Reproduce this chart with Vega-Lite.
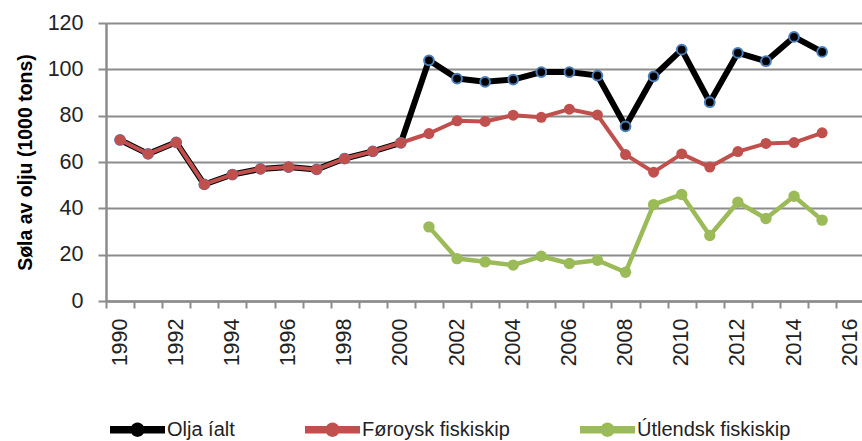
{
  "$schema": "https://vega.github.io/schema/vega-lite/v6.json",
  "width": 756,
  "height": 278,
  "autosize": {"type": "none"},
  "padding": {"left": 106, "top": 23, "right": 0, "bottom": 140},
  "background": "white",
  "config": {"view": {"stroke": null}, "font": "Liberation Sans"},
  "data": {"values": [
    {"year": 1990, "series": "Olja íalt", "value": 69.5},
    {"year": 1991, "series": "Olja íalt", "value": 63.5},
    {"year": 1992, "series": "Olja íalt", "value": 68.5},
    {"year": 1993, "series": "Olja íalt", "value": 50.3},
    {"year": 1994, "series": "Olja íalt", "value": 54.6},
    {"year": 1995, "series": "Olja íalt", "value": 57.0},
    {"year": 1996, "series": "Olja íalt", "value": 57.8},
    {"year": 1997, "series": "Olja íalt", "value": 56.8},
    {"year": 1998, "series": "Olja íalt", "value": 61.5},
    {"year": 1999, "series": "Olja íalt", "value": 64.6},
    {"year": 2000, "series": "Olja íalt", "value": 68.3},
    {"year": 2001, "series": "Olja íalt", "value": 103.9},
    {"year": 2002, "series": "Olja íalt", "value": 96.0},
    {"year": 2003, "series": "Olja íalt", "value": 94.6},
    {"year": 2004, "series": "Olja íalt", "value": 95.6},
    {"year": 2005, "series": "Olja íalt", "value": 98.8},
    {"year": 2006, "series": "Olja íalt", "value": 98.8},
    {"year": 2007, "series": "Olja íalt", "value": 97.3},
    {"year": 2008, "series": "Olja íalt", "value": 75.4},
    {"year": 2009, "series": "Olja íalt", "value": 97.0},
    {"year": 2010, "series": "Olja íalt", "value": 108.5},
    {"year": 2011, "series": "Olja íalt", "value": 85.8},
    {"year": 2012, "series": "Olja íalt", "value": 107.1},
    {"year": 2013, "series": "Olja íalt", "value": 103.5},
    {"year": 2014, "series": "Olja íalt", "value": 114.0},
    {"year": 2015, "series": "Olja íalt", "value": 107.5},
    {"year": 1990, "series": "Føroysk fiskiskip", "value": 69.5},
    {"year": 1991, "series": "Føroysk fiskiskip", "value": 63.5},
    {"year": 1992, "series": "Føroysk fiskiskip", "value": 68.5},
    {"year": 1993, "series": "Føroysk fiskiskip", "value": 50.3},
    {"year": 1994, "series": "Føroysk fiskiskip", "value": 54.6},
    {"year": 1995, "series": "Føroysk fiskiskip", "value": 57.0},
    {"year": 1996, "series": "Føroysk fiskiskip", "value": 57.8},
    {"year": 1997, "series": "Føroysk fiskiskip", "value": 56.8},
    {"year": 1998, "series": "Føroysk fiskiskip", "value": 61.5},
    {"year": 1999, "series": "Føroysk fiskiskip", "value": 64.6},
    {"year": 2000, "series": "Føroysk fiskiskip", "value": 68.3},
    {"year": 2001, "series": "Føroysk fiskiskip", "value": 72.3},
    {"year": 2002, "series": "Føroysk fiskiskip", "value": 77.8},
    {"year": 2003, "series": "Føroysk fiskiskip", "value": 77.5},
    {"year": 2004, "series": "Føroysk fiskiskip", "value": 80.2},
    {"year": 2005, "series": "Føroysk fiskiskip", "value": 79.3},
    {"year": 2006, "series": "Føroysk fiskiskip", "value": 82.8},
    {"year": 2007, "series": "Føroysk fiskiskip", "value": 80.3},
    {"year": 2008, "series": "Føroysk fiskiskip", "value": 63.2},
    {"year": 2009, "series": "Føroysk fiskiskip", "value": 55.6},
    {"year": 2010, "series": "Føroysk fiskiskip", "value": 63.5},
    {"year": 2011, "series": "Føroysk fiskiskip", "value": 57.8},
    {"year": 2012, "series": "Føroysk fiskiskip", "value": 64.5},
    {"year": 2013, "series": "Føroysk fiskiskip", "value": 68.0},
    {"year": 2014, "series": "Føroysk fiskiskip", "value": 68.4},
    {"year": 2015, "series": "Føroysk fiskiskip", "value": 72.6},
    {"year": 2001, "series": "Útlendsk fiskiskip", "value": 32.0},
    {"year": 2002, "series": "Útlendsk fiskiskip", "value": 18.3},
    {"year": 2003, "series": "Útlendsk fiskiskip", "value": 16.9},
    {"year": 2004, "series": "Útlendsk fiskiskip", "value": 15.5},
    {"year": 2005, "series": "Útlendsk fiskiskip", "value": 19.3},
    {"year": 2006, "series": "Útlendsk fiskiskip", "value": 16.2},
    {"year": 2007, "series": "Útlendsk fiskiskip", "value": 17.6},
    {"year": 2008, "series": "Útlendsk fiskiskip", "value": 12.4},
    {"year": 2009, "series": "Útlendsk fiskiskip", "value": 41.6},
    {"year": 2010, "series": "Útlendsk fiskiskip", "value": 46.0},
    {"year": 2011, "series": "Útlendsk fiskiskip", "value": 28.3},
    {"year": 2012, "series": "Útlendsk fiskiskip", "value": 42.6},
    {"year": 2013, "series": "Útlendsk fiskiskip", "value": 35.6},
    {"year": 2014, "series": "Útlendsk fiskiskip", "value": 45.2},
    {"year": 2015, "series": "Útlendsk fiskiskip", "value": 34.9}
  ]},
  "encoding": {
    "x": {
      "field": "year", "type": "quantitative",
      "scale": {"domain": [1989.5, 2016.42], "nice": false, "zero": false},
      "axis": {
        "title": null,
        "values": [1990,1991,1992,1993,1994,1995,1996,1997,1998,1999,2000,2001,2002,2003,2004,2005,2006,2007,2008,2009,2010,2011,2012,2013,2014,2015,2016],
        "format": "d",
        "labelExpr": "datum.value % 2 === 0 ? datum.label : ''",
        "labelOverlap": false,
        "labelAngle": -90,
        "labelFontSize": 21.5,
        "labelColor": "#222222",
        "labelPadding": 10,
        "tickOffset": -14.04,
        "labelOffset": 14.04,
        "tickSize": 7,
        "tickColor": "#8c8c8c",
        "tickWidth": 2,
        "domainColor": "#8c8c8c",
        "domainWidth": 2.5,
        "grid": false,
        "encode": {"ticks": {"update": {"y": {"value": -7}, "y2": {"value": 7}}}}
      }
    },
    "y": {
      "field": "value", "type": "quantitative",
      "scale": {"domain": [0, 120], "nice": false},
      "axis": {
        "title": "Søla av olju (1000 tons)",
        "titleFontSize": 19.5,
        "titleFontWeight": "bold",
        "titleColor": "#000000",
        "titlePadding": 12,
        "values": [0, 20, 40, 60, 80, 100, 120],
        "labelFontSize": 21.5,
        "labelColor": "#222222",
        "labelPadding": 15,
        "tickSize": 8,
        "tickColor": "#8c8c8c",
        "tickWidth": 2,
        "domainColor": "#8c8c8c",
        "domainWidth": 2.5,
        "grid": true,
        "gridColor": "#8c8c8c",
        "gridWidth": 2
      }
    }
  },
  "layer": [
    {
      "transform": [{"filter": "datum.series === 'Olja íalt'"}],
      "mark": {"type": "line", "strokeWidth": 6, "strokeJoin": "round"},
      "encoding": {
        "color": {
          "field": "series", "type": "nominal",
          "scale": {"domain": ["Olja íalt", "Føroysk fiskiskip", "Útlendsk fiskiskip"], "range": ["#000000", "#c0504d", "#9bbb59"]},
          "legend": {
            "orient": "none",
            "legendX": 4,
            "legendY": 379,
            "direction": "horizontal",
            "columns": 3,
            "title": null,
            "padding": 0,
            "symbolType": "M-1,-0.14L-0.219,-0.14A0.26,0.26,0,0,1,0.219,-0.14L1,-0.14L1,0.14L0.219,0.14A0.26,0.26,0,0,1,-0.219,0.14L-1,0.14Z",
            "symbolSize": 3025,
            "symbolStrokeWidth": 0,
            "labelFontSize": 20,
            "labelColor": "#222222",
            "labelOffset": 2,
            "labelLimit": 400,
            "columnPadding": 70,
            "encode": {"symbols": {"update": {"fill": {"scale": "color", "field": "value"}, "opacity": {"value": 1}, "strokeWidth": {"value": 0}}}}
          }
        }
      }
    },
    {
      "transform": [{"filter": "datum.series === 'Olja íalt'"}],
      "mark": {"type": "point", "filled": true, "fill": "#000000", "stroke": "#4a7ebb", "strokeWidth": 2, "size": 95, "opacity": 1}
    },
    {
      "transform": [{"filter": "datum.series === 'Føroysk fiskiskip'"}],
      "mark": {"type": "line", "strokeWidth": 4, "strokeJoin": "round"},
      "encoding": {"color": {"field": "series", "type": "nominal"}}
    },
    {
      "transform": [{"filter": "datum.series === 'Føroysk fiskiskip'"}],
      "mark": {"type": "point", "filled": true, "fill": "#c0504d", "size": 120, "opacity": 1}
    },
    {
      "transform": [{"filter": "datum.series === 'Útlendsk fiskiskip'"}],
      "mark": {"type": "line", "strokeWidth": 4.5, "strokeJoin": "round"},
      "encoding": {"color": {"field": "series", "type": "nominal"}}
    },
    {
      "transform": [{"filter": "datum.series === 'Útlendsk fiskiskip'"}],
      "mark": {"type": "point", "filled": true, "fill": "#9bbb59", "size": 130, "opacity": 1}
    }
  ]
}
